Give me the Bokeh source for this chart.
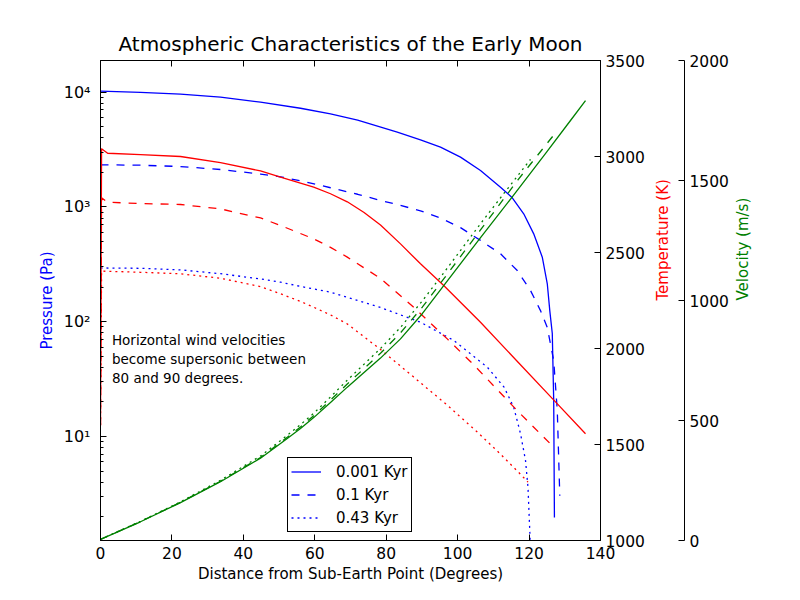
import math
from bokeh.plotting import figure
from bokeh.models import (Range1d, LinearAxis, LinearScale, FixedTicker, CustomJSTickFormatter,
                          Legend, LegendItem, Label)
from bokeh.embed import file_html
from bokeh.resources import INLINE

FONT = "DejaVu Sans"
BLUE, RED, GREEN = "#0000ff", "#ff0000", "#008000"

# ---------------- data ----------------
x_ticks = [0, 20, 40, 60, 80, 100, 120, 140]
temp_ticks = [1000, 1500, 2000, 2500, 3000, 3500]
vel_ticks = [0, 500, 1000, 1500, 2000]
pres_ticks = [10, 100, 1000, 10000]

# Pressure (Pa)
p1_x = [0, 11.2, 22.4, 33.6, 44.8, 56, 64.4, 72, 83.1, 89.6, 95.2, 100.8, 106.4, 112,
        115.3, 118.5, 121.3, 123.7, 125.1, 125.8, 126.5, 126.9, 127.1]
p1_y = [10200, 9950, 9600, 9040, 8180, 7245, 6457, 5700, 4480, 3846, 3318, 2716, 2080, 1487,
        1202, 871, 583, 365, 214, 125, 79, 20.5, 1.97]

p2_x = [0, 11.2, 22.4, 33.6, 44.8, 50.4, 56, 64.4, 72, 78.4, 83.1, 89.6, 95.2, 100.8, 106.4,
        112, 116.7, 120.4, 123.2, 125.1, 126.9, 127.9, 128.6]
p2_y = [2330, 2310, 2250, 2120, 1935, 1830, 1690, 1470, 1290, 1140, 1050, 925, 800, 660, 511,
        391, 279, 187, 125, 89, 45.8, 16.8, 3.05]

p3_x = [0, 11.2, 22.4, 33.6, 44.8, 50.4, 56, 64.4, 78.4, 89.6, 98.9, 108.3, 113, 115.7, 117.6,
        119, 119.7, 120.2, 120.4]
p3_y = [294, 292, 283, 262, 236, 221, 203, 181, 133, 99, 68.7, 40.2, 26.9, 18, 10.6,
        6.2, 3.6, 1.5, 1.0]

# Temperature (K)
t1_x = [0, 0.3, 2, 11.2, 22.4, 33.6, 44.8, 50.4, 59.7, 64.4, 69.1, 73.8, 78.4, 84, 89.6, 96.1,
        106.4, 116.6, 126.8, 135.8]
t1_y = [1600, 3040, 3017, 3010, 3000, 2968, 2925, 2893, 2840, 2806, 2764, 2708, 2643, 2545,
        2441, 2328, 2137, 1935, 1734, 1556]

t2_x = [0, 0.3, 2, 11.2, 22.4, 33.6, 44.8, 50.4, 59.7, 64.4, 69.1, 78.4, 87.7, 97.1, 104.5,
        116.6, 126.8]
t2_y = [1600, 2785, 2762, 2755, 2750, 2727, 2680, 2641, 2571, 2527, 2476, 2365, 2215, 2050,
        1915, 1678, 1488]

t3_x = [0, 0.3, 11.2, 22.4, 33.6, 44.8, 50.4, 56, 59.7, 64.4, 69.1, 78.4, 87.7, 97.1, 105.5,
        112, 117.6, 119.7]
t3_y = [1600, 2403, 2397, 2389, 2366, 2322, 2285, 2245, 2215, 2175, 2128, 1995, 1851, 1705,
        1565, 1450, 1345, 1304]

# Velocity (m/s)
v1_x = [0, 11.2, 22.4, 33.6, 44.8, 52.3, 56, 59.7, 64.4, 69.1, 78.4, 84, 90.1, 96.1, 106.3,
        115.3, 124.9, 131.6, 135.8]
v1_y = [5, 78, 158, 245, 343, 425, 467, 512, 575, 639, 760, 840, 945, 1062, 1260,
        1432, 1618, 1750, 1833]

v2_x = [0, 11.2, 22.4, 33.6, 44.8, 52.3, 56, 59.7, 64.4, 69.1, 78.4, 84, 90.1, 96.1, 106.3,
        117, 127.9]
v2_y = [5, 79, 159, 247, 346, 430, 473, 520, 585, 652, 780, 865, 972, 1090, 1292,
        1505, 1708]

v3_x = [0, 11.2, 22.4, 33.6, 44.8, 52.3, 56, 59.7, 64.4, 69.1, 78.4, 84, 90.1, 96.1, 106.3,
        113, 120.4]
v3_y = [5, 80, 161, 251, 352, 438, 483, 530, 598, 668, 800, 888, 998, 1115, 1318,
        1447, 1588]

labels = ["0.001 Kyr", "0.1 Kyr", "0.43 Kyr"]
note = "Horizontal wind velocities\nbecome supersonic between\n80 and 90 degrees."

# ---------------- figure ----------------
p = figure(frame_width=500, frame_height=480,
           x_range=Range1d(0, 140), y_range=Range1d(1.241, 18880), y_axis_type="log",
           output_backend="svg", toolbar_location=None,
           min_border_left=100, min_border_top=60, min_border_bottom=45, min_border_right=170,
           title="Atmospheric Characteristics of the Early Moon")
p.extra_y_ranges = {"temp": Range1d(1000, 3500), "vel": Range1d(0, 2000)}
p.extra_y_scales = {"temp": LinearScale(), "vel": LinearScale()}
p.grid.visible = False
p.outline_line_color = "black"
p.outline_line_alpha = 1
p.outline_line_width = 1
p.background_fill_color = "white"
p.border_fill_color = "white"

p.title.text_font = FONT
p.title.text_font_size = "20px"
p.title.text_font_style = "normal"
p.title.align = "center"
p.title.text_color = "black"

TICK_SIZE = "15.5px"
LABEL_SIZE = "15px"

def style_axis(ax, ticks):
    ax.ticker = FixedTicker(ticks=ticks)
    ax.major_tick_in = 6
    ax.major_tick_out = 0
    ax.minor_tick_line_color = None
    ax.major_label_text_font = FONT
    ax.major_label_text_font_size = TICK_SIZE
    ax.major_label_text_color = "black"
    ax.axis_label_text_font = FONT
    ax.axis_label_text_font_size = LABEL_SIZE
    ax.axis_label_text_font_style = "normal"
    ax.axis_label_text_color = "black"
    ax.axis_line_color = "black"
    ax.major_tick_line_color = "black"

# bottom x axis
xa = p.xaxis[0]
style_axis(xa, x_ticks)
xa.major_label_standoff = 6
xa.axis_label = "Distance from Sub-Earth Point (Degrees)"
xa.axis_label_standoff = 3

# top ticks only
top = LinearAxis(ticker=FixedTicker(ticks=x_ticks), major_tick_in=6, major_tick_out=0,
                 minor_tick_line_color=None, major_label_text_color=None,
                 formatter=CustomJSTickFormatter(code="return ''"),
                 axis_line_color="black", major_label_standoff=0)
p.add_layout(top, "above")

# left log pressure axis
ya = p.yaxis[0]
ya.ticker = FixedTicker(ticks=pres_ticks,
                        minor_ticks=[m * 10 ** e for e in range(0, 5) for m in range(2, 10)])
ya.formatter = CustomJSTickFormatter(code="""
const sup = {'0':'\u2070','1':'\u00b9','2':'\u00b2','3':'\u00b3','4':'\u2074','5':'\u2075',
             '6':'\u2076','7':'\u2077','8':'\u2078','9':'\u2079','-':'\u207b'};
const e = String(Math.round(Math.log10(tick)));
return '10' + e.split('').map(c => sup[c]).join('');
""")
ya.major_tick_in = 6
ya.major_tick_out = 0
ya.minor_tick_in = 3
ya.minor_tick_out = 0
ya.major_label_text_font = FONT
ya.major_label_text_font_size = "16px"
ya.major_label_text_color = "black"
ya.major_label_standoff = 10
ya.axis_line_color = "black"
ya.axis_label = "Pressure (Pa)"
ya.axis_label_text_color = BLUE
ya.axis_label_text_font = FONT
ya.axis_label_text_font_size = LABEL_SIZE
ya.axis_label_text_font_style = "normal"
ya.axis_label_standoff = 5

# right temperature axis
ta = LinearAxis(y_range_name="temp")
style_axis(ta, temp_ticks)
ta.major_label_standoff = 5
ta.axis_label = "Temperature (K)"
ta.axis_label_text_color = RED
ta.axis_label_standoff = 15
ta.axis_label_orientation = math.pi / 2
p.add_layout(ta, "right")

# spacer between the two right axes
sp = LinearAxis(y_range_name="temp", ticker=FixedTicker(ticks=[]), major_tick_out=0,
                major_tick_in=0, axis_line_color=None, major_tick_line_color=None,
                minor_tick_line_color=None, major_label_text_color=None, major_label_standoff=0,
                axis_label=" ", axis_label_standoff=-7, axis_label_text_font_size="4px",
                axis_label_text_color="white")
p.add_layout(sp, "right")

# right velocity axis
va = LinearAxis(y_range_name="vel")
style_axis(va, vel_ticks)
va.major_label_standoff = 5
va.axis_label = "Velocity (m/s)"
va.axis_label_text_color = GREEN
va.axis_label_standoff = 11
va.axis_label_orientation = math.pi / 2
p.add_layout(va, "right")

LW = 1.3
DASH = ["solid", "8 8", "2 4"]

rp = []
for xs, ys, d in [(p1_x, p1_y, DASH[0]), (p2_x, p2_y, DASH[1]), (p3_x, p3_y, DASH[2])]:
    rp.append(p.line(xs, ys, line_color=BLUE, line_width=LW, line_dash=d, line_join="round"))
for xs, ys, d in [(t1_x, t1_y, DASH[0]), (t2_x, t2_y, DASH[1]), (t3_x, t3_y, DASH[2])]:
    p.line(xs, ys, line_color=RED, line_width=LW, line_dash=d, line_join="round",
           y_range_name="temp")
for xs, ys, d in [(v1_x, v1_y, DASH[0]), (v2_x, v2_y, DASH[1]), (v3_x, v3_y, DASH[2])]:
    p.line(xs, ys, line_color=GREEN, line_width=LW, line_dash=d, line_join="round",
           y_range_name="vel")

legend = Legend(items=[LegendItem(label=l, renderers=[r]) for l, r in zip(labels, rp)],
                location=(187, 8), margin=0, padding=3, spacing=2,
                glyph_width=30, glyph_height=21, label_height=21, label_standoff=15,
                label_text_font=FONT, label_text_font_size="15px", label_text_color="black",
                border_line_color="black", border_line_width=1, border_line_alpha=1,
                background_fill_color="white", background_fill_alpha=1)
p.add_layout(legend)

p.add_layout(Label(x=3.2, y=82, text=note, text_font=FONT, text_font_size="13.5px",
                   text_baseline="top", text_align="left", text_color="black"))

open("out.html", "w").write(file_html(p, INLINE))
